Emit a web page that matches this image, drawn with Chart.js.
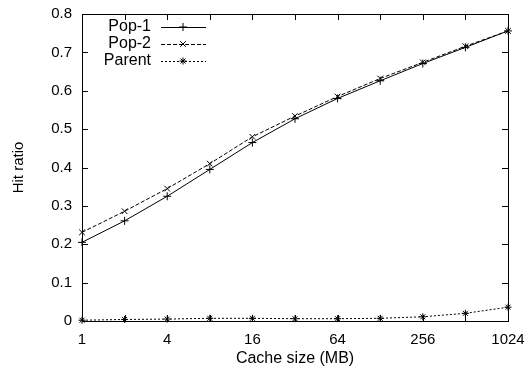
<!DOCTYPE html>
<html>
<head>
<meta charset="utf-8">
<script src="https://cdn.jsdelivr.net/npm/chart.js@4.4.1/dist/chart.umd.min.js"></script>
<style>
  html, body { margin: 0; padding: 0; background: #fff; }
</style>
</head>
<body>
<canvas id="chart" width="529" height="375"></canvas>
<script>
// data
const cacheSizes = [1, 2, 4, 8, 16, 32, 64, 128, 256, 512, 1024];
const xTickLabels = [1, 4, 16, 64, 256, 1024];
const yTicks = [0, 0.1, 0.2, 0.3, 0.4, 0.5, 0.6, 0.7, 0.8];
const pop1 = [0.205, 0.261, 0.325, 0.395, 0.465, 0.527, 0.580, 0.626, 0.671, 0.713, 0.756];
const pop2 = [0.231, 0.286, 0.345, 0.410, 0.480, 0.534, 0.585, 0.632, 0.674, 0.716, 0.756];
const parent = [0.002, 0.004, 0.005, 0.007, 0.007, 0.006, 0.006, 0.007, 0.011, 0.020, 0.036];
const seriesNames = ['Pop-1', 'Pop-2', 'Parent'];

const FONT = 'Liberation Sans, Arial, Helvetica, sans-serif';

const toPoints = (vals) => vals.map((v, i) => ({ x: cacheSizes[i], y: v }));

// gnuplot style box with inward ticks on all four sides
const frameTicks = {
    id: 'frameTicks',
    afterDatasetsDraw(chart) {
        const { ctx, chartArea: a, scales } = chart;
        const len = 6;
        ctx.save();
        ctx.strokeStyle = '#000';
        ctx.lineWidth = 1;
        ctx.beginPath();
        cacheSizes.forEach((v) => {
            const x = Math.round(scales.x.getPixelForValue(v)) + 0.5;
            ctx.moveTo(x, a.bottom); ctx.lineTo(x, a.bottom - len);
            ctx.moveTo(x, a.top); ctx.lineTo(x, a.top + len);
        });
        yTicks.forEach((v) => {
            const y = Math.round(scales.y.getPixelForValue(v)) + 0.5;
            ctx.moveTo(a.left, y); ctx.lineTo(a.left + len, y);
            ctx.moveTo(a.right, y); ctx.lineTo(a.right - len, y);
        });
        ctx.stroke();
        ctx.strokeRect(Math.round(a.left) + 0.5, Math.round(a.top) + 0.5,
            Math.round(a.right - a.left), Math.round(a.bottom - a.top));
        ctx.restore();
    }
};

// legend: right aligned text, then line sample with marker
const keyBox = {
    id: 'keyBox',
    afterDraw(chart) {
        const { ctx, chartArea: a } = chart;
        ctx.save();
        ctx.font = '16px ' + FONT;
        ctx.textAlign = 'right';
        ctx.textBaseline = 'middle';
        chart.data.datasets.forEach((ds, i) => {
            const y = a.top + 13 + i * 17;
            ctx.fillStyle = '#000';
            ctx.fillText(ds.label, a.left + 69, y);
            ctx.strokeStyle = '#000';
            ctx.lineWidth = 1;
            ctx.setLineDash(ds.borderDash || []);
            ctx.beginPath();
            ctx.moveTo(a.left + 79, y + 0.5);
            ctx.lineTo(a.left + 124, y + 0.5);
            ctx.stroke();
            ctx.setLineDash([]);
            Chart.helpers.drawPoint(ctx, {
                pointStyle: ds.pointStyle, radius: ds.pointRadius, rotation: 0, borderWidth: 1
            }, a.left + 101, y);
        });
        ctx.restore();
    }
};

const common = {
    borderColor: '#000',
    backgroundColor: '#000',
    pointBorderColor: '#000',
    pointBackgroundColor: '#000',
    borderWidth: 1,
    pointBorderWidth: 1,
    tension: 0,
    clip: false
};

new Chart(document.getElementById('chart'), {
    type: 'line',
    data: {
        datasets: [
            { ...common, label: seriesNames[0], data: toPoints(pop1), pointStyle: 'cross', pointRadius: 4 },
            { ...common, label: seriesNames[1], data: toPoints(pop2), pointStyle: 'crossRot', pointRadius: 4, borderDash: [4, 2] },
            { ...common, label: seriesNames[2], data: toPoints(parent), pointStyle: 'star', pointRadius: 3.5, borderDash: [2, 2] }
        ]
    },
    plugins: [frameTicks, keyBox],
    options: {
        responsive: false,
        animation: false,
        devicePixelRatio: 1,
        layout: { padding: { top: 14, right: 21, left: 0, bottom: 0 } },
        plugins: { legend: { display: false }, tooltip: { enabled: false } },
        scales: {
            x: {
                type: 'logarithmic',
                min: 1,
                max: 1024,
                afterBuildTicks: (s) => { s.ticks = cacheSizes.map((v) => ({ value: v })); },
                afterFit: (s) => { s.height = 54; s.paddingLeft = 0; s.paddingRight = 0; },
                grid: { display: false, drawTicks: false },
                border: { display: false },
                ticks: {
                    autoSkip: false,
                    maxRotation: 0,
                    padding: 10,
                    color: '#000',
                    font: { family: FONT, size: 15 },
                    callback: (v) => xTickLabels.includes(v) ? String(v) : ''
                },
                title: {
                    display: true,
                    text: 'Cache size (MB)',
                    color: '#000',
                    font: { family: FONT, size: 16 },
                    padding: { top: 7, bottom: 7 }
                }
            },
            y: {
                min: 0,
                max: 0.8,
                afterBuildTicks: (s) => { s.ticks = yTicks.map((v) => ({ value: v })); },
                afterFit: (s) => { s.width = 82; s.paddingTop = 0; s.paddingBottom = 0; },
                grid: { display: false, drawTicks: false },
                border: { display: false },
                ticks: {
                    padding: 10,
                    color: '#000',
                    font: { family: FONT, size: 15 },
                    callback: (v) => v === 0 ? '0' : v.toFixed(1)
                },
                title: {
                    display: true,
                    text: 'Hit ratio',
                    color: '#000',
                    font: { family: FONT, size: 15 },
                    padding: { top: 10, bottom: 10 }
                }
            }
        }
    }
});
</script>
</body>
</html>
